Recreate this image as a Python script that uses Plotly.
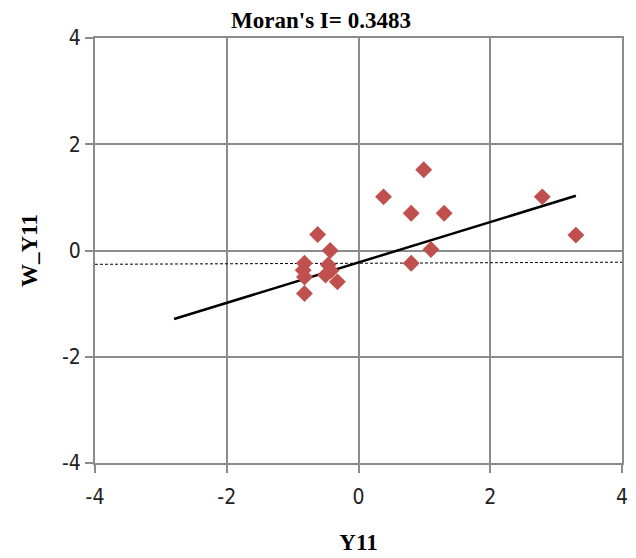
import plotly.graph_objects as go

# Data
x_vals = [-0.62, -0.43, -0.82, -0.84, -0.82, -0.82, -0.46, -0.50, -0.42, -0.32,
          0.38, 0.99, 0.80, 1.30, 2.79, 3.30, 1.10, 0.80]
y_vals = [0.30, 0.00, -0.24, -0.37, -0.50, -0.81, -0.27, -0.46, -0.38, -0.59,
          1.01, 1.52, 0.70, 0.70, 1.01, 0.29, 0.02, -0.24]
trend_x = [-2.8, 3.3]
trend_y = [-1.29, 1.03]
dash_x = [-4, 4]
dash_y = [-0.26, -0.22]
tick_vals = [-4, -2, 0, 2, 4]
tick_text = ["-4", "-2", "0", "2", "4"]
title_text = "Moran's I= 0.3483"
x_title = "Y11"
y_title = "W_Y11"

fig = go.Figure()
fig.add_trace(go.Scatter(x=dash_x, y=dash_y, mode="lines",
                         line=dict(color="black", width=1, dash="3px,2px"),
                         showlegend=False, hoverinfo="skip"))
fig.add_trace(go.Scatter(x=trend_x, y=trend_y, mode="lines",
                         line=dict(color="black", width=2.5),
                         showlegend=False))
fig.add_trace(go.Scatter(x=x_vals, y=y_vals, mode="markers",
                         marker=dict(symbol="diamond", size=13, color="#C0504D",
                                     line=dict(width=0)),
                         showlegend=False))

tick_font = dict(family="Liberation Sans Narrow, DejaVu Sans Condensed, sans-serif",
                 size=21, color="#222222")
title_font = dict(family="Liberation Serif, Times New Roman, serif", size=23, color="black")

axis_common = dict(range=[-4, 4], tickvals=tick_vals, ticktext=tick_text, showgrid=True,
                   gridcolor="#8c8c8c", gridwidth=2, zeroline=False,
                   showline=True, linecolor="#8c8c8c", linewidth=2, mirror=True,
                   ticks="outside", ticklen=8, tickwidth=2,
                   tickcolor="#8c8c8c", tickfont=tick_font, fixedrange=True,
                   automargin=False)

W, H = 628, 550
fig.update_layout(
    width=W, height=H,
    margin=dict(l=87, r=14, t=30, b=95),
    paper_bgcolor="white", plot_bgcolor="white",
    title=dict(text="<b>" + title_text + "</b>", x=313 / W, xref="container",
               xanchor="center", y=1 - 12 / H, yanchor="middle", yref="container",
               font=title_font, automargin=False),
    xaxis=dict(axis_common, ticklabelstandoff=6,
               title=dict(text="<b>" + x_title + "</b>", font=title_font, standoff=26)),
    yaxis=dict(axis_common, title=dict(text="<b>" + y_title + "</b>", font=title_font,
                                       standoff=18)),
)

fig.write_html("out.html")
